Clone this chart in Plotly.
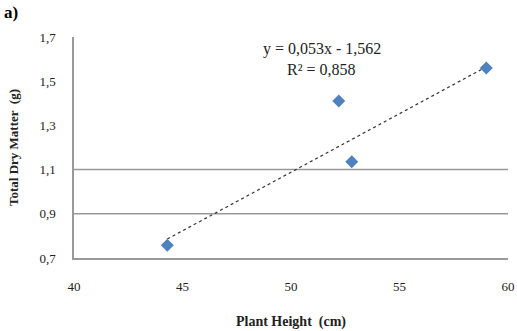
import plotly.graph_objects as go

plant_height = [44.3, 52.2, 52.8, 59.0]
dry_matter = [0.758, 1.41, 1.135, 1.56]
slope = 0.053
intercept = -1.562
r2 = 0.858
x_ticks = [40, 45, 50, 55, 60]
y_ticks = [0.7, 0.9, 1.1, 1.3, 1.5, 1.7]
y_tick_text = ["0,7", "0,9", "1,1", "1,3", "1,5", "1,7"]
grid_values = [0.9, 1.1]

FONT = "'Liberation Serif', 'Times New Roman', serif"

trend_x = [min(plant_height), max(plant_height)]
trend_y = [slope * v + intercept for v in trend_x]

fig = go.Figure()
fig.add_trace(go.Scatter(x=trend_x, y=trend_y, mode="lines",
                         line=dict(color="#333333", width=1.2, dash="dot"),
                         hoverinfo="skip", showlegend=False))
fig.add_trace(go.Scatter(x=plant_height, y=dry_matter, mode="markers",
                         marker=dict(symbol="diamond", size=10, color="#4F81BD"),
                         showlegend=False))

for g in grid_values:
    fig.add_shape(type="line", xref="paper", x0=0, x1=1, yref="y", y0=g, y1=g,
                  line=dict(color="#999999", width=1.5), layer="below")

fig.add_annotation(xref="paper", yref="paper", x=0.43, y=0.995, xanchor="left", yanchor="top",
                   text="y = 0,053x - 1,562<br>      R² = 0,858", showarrow=False, align="left",
                   font=dict(family=FONT, size=16, color="#222222"))

fig.add_annotation(xref="paper", yref="paper", x=-0.167, y=1.165, xanchor="left", yanchor="top",
                   text="<b>a)</b>", showarrow=False,
                   font=dict(family=FONT, size=17, color="black"))

fig.update_layout(
    width=517, height=331,
    margin=dict(l=74, r=9, t=37, b=73),
    paper_bgcolor="white", plot_bgcolor="white",
    font=dict(family=FONT, size=13, color="#222222"),
    xaxis=dict(range=[40, 60], tickvals=x_ticks, showgrid=False, zeroline=False,
               showline=True, linecolor="#999999", linewidth=1.5, automargin=False,
               ticks="", ticklabelstandoff=16,
               title=dict(text="<b>Plant Height  (cm)</b>", font=dict(family=FONT, size=14), standoff=23)),
    yaxis=dict(range=[0.7, 1.7], tickvals=y_ticks, ticktext=y_tick_text, showgrid=False,
               zeroline=False, showline=True, linecolor="#999999", linewidth=1.5, automargin=False,
               ticks="", ticklabelstandoff=14,
               title=dict(text="<b>Total Dry Matter  (g)</b>", font=dict(family=FONT, size=13), standoff=18)),
)

fig.write_html("out.html", post_script="document.body.style.margin='0';",
               config={"displayModeBar": False})
